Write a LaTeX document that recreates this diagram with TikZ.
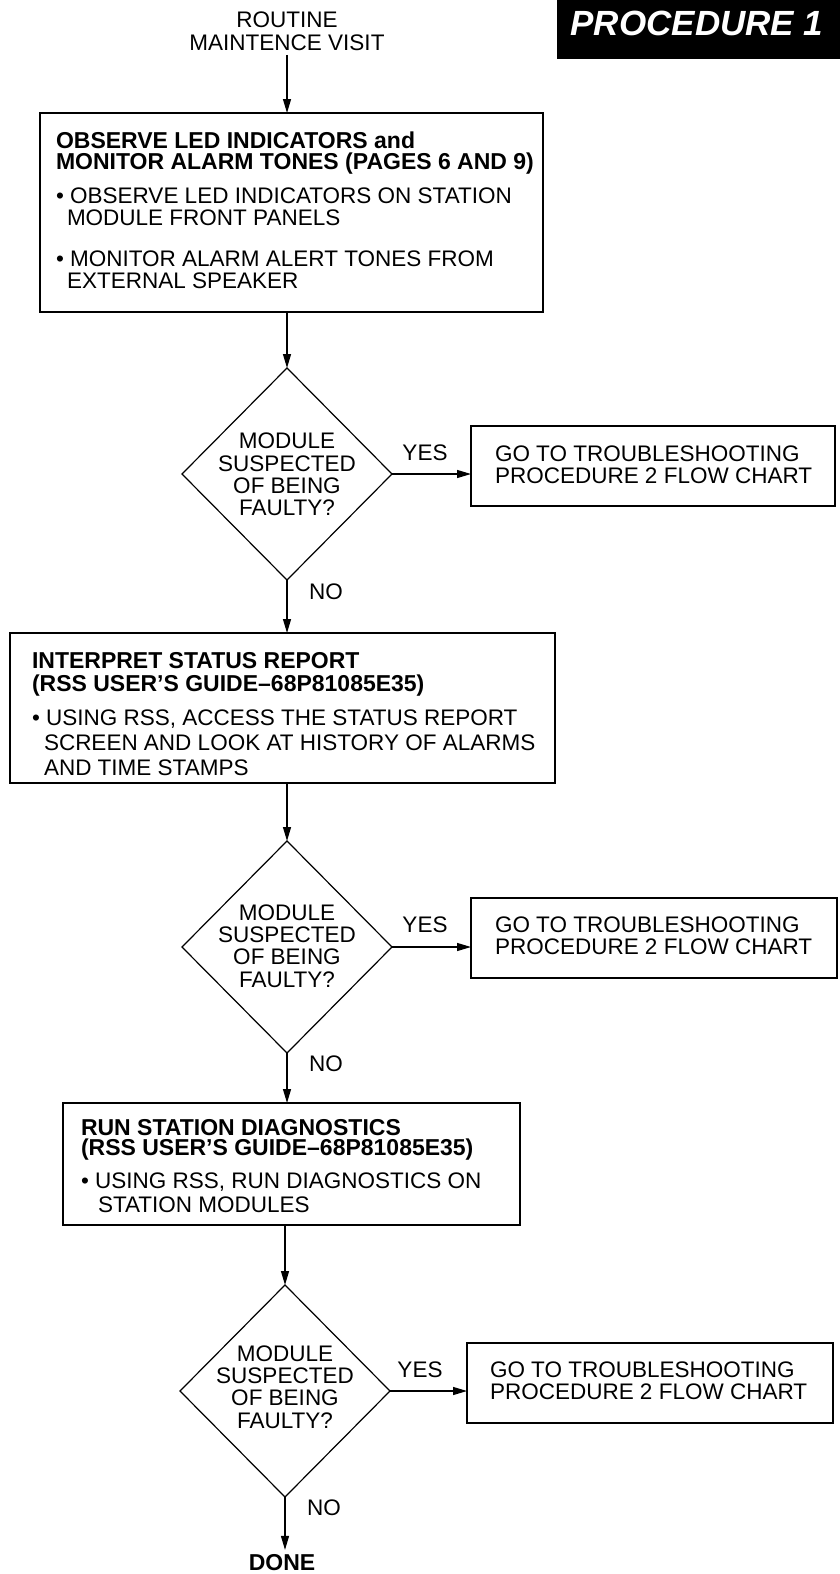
\documentclass[tikz,border=0pt]{standalone}
\usepackage{fontspec}
\setmainfont{Liberation Sans}
\usetikzlibrary{shapes.geometric,arrows.meta}
\newcommand\hd[1]{{\fontsize{23}{22}\selectfont\bfseries #1}}
\newcommand\tightls{\lineskiplimit=-100pt\relax\lineskip=0pt\relax}
\begin{document}
\begin{tikzpicture}[x=1pt,y=-1pt,
  every node/.style={inner sep=0pt, outer sep=0pt},
  body/.style={font=\fontsize{22.5}{22}\selectfont\tightls, align=left},
  ctxt/.style={font=\fontsize{22.5}{22.3}\selectfont\tightls, align=center},
  boldt/.style={font=\fontsize{23}{22}\selectfont\bfseries},
  boxs/.style={draw, line width=1.2pt, rectangle, anchor=north west},
  dia/.style={draw, line width=1.2pt, diamond, minimum width=210pt, minimum height=212pt},
  arr/.style={draw, line width=1.2pt, -{Triangle[length=14pt,width=8pt]}}
]
\useasboundingbox (0,0) rectangle (840,1574);

% title
\node[fill=black, minimum width=283pt, minimum height=59pt, anchor=north west] (title) at (557,0) {};
\node[font=\fontsize{35}{35}\selectfont\bfseries\itshape, text=white] (titlet) at (697,23) {PROCEDURE 1};

% start
\node[ctxt, font=\fontsize{22.5}{23}\selectfont\tightls] (start) at (287,31.5) {ROUTINE\\MAINTENCE VISIT};

% box 1
\node[boxs, minimum width=503pt, minimum height=199pt] (box1) at (40,113) {};
\node[body, anchor=north west] (box1t) at (56,132) {\hd{OBSERVE LED INDICATORS and}\\[-1pt]\hd{MONITOR ALARM TONES (PAGES 6 AND 9)}\\[12pt]• OBSERVE LED INDICATORS ON STATION\\\hspace*{11pt}MODULE FRONT PANELS\\[19pt]• MONITOR ALARM ALERT TONES FROM\\\hspace*{11pt}EXTERNAL SPEAKER};

% decision 1
\node[dia] (d1) at (287,474) {};
\node[ctxt] (d1t) at (287,474.5) {MODULE\\SUSPECTED\\OF BEING\\FAULTY?};
\node[boxs, minimum width=364pt, minimum height=80pt] (yb1) at (471,426) {};
\node[body, anchor=west] (yb1t) at (495,465) {GO TO TROUBLESHOOTING\\PROCEDURE 2 FLOW CHART};
\node[body] (yes1) at (425,453) {YES};
\node[body] (no1) at (326,592) {NO};

% box 2
\node[boxs, minimum width=545pt, minimum height=150pt] (box2) at (10,633) {};
\node[body, anchor=north west] (box2t) at (32,652) {\hd{INTERPRET STATUS REPORT}\\[1pt]\hd{(RSS USER’S GUIDE–68P81085E35)}\\[12pt]• USING RSS, ACCESS THE STATUS REPORT\\[3pt]\hspace*{12pt}SCREEN AND LOOK AT HISTORY OF ALARMS\\[3pt]\hspace*{12pt}AND TIME STAMPS};

% decision 2
\node[dia] (d2) at (287,947) {};
\node[ctxt] (d2t) at (287,946) {MODULE\\SUSPECTED\\OF BEING\\FAULTY?};
\node[boxs, minimum width=366pt, minimum height=80pt] (yb2) at (471,898) {};
\node[body, anchor=west] (yb2t) at (495,936) {GO TO TROUBLESHOOTING\\PROCEDURE 2 FLOW CHART};
\node[body] (yes2) at (425,925) {YES};
\node[body] (no2) at (326,1064) {NO};

% box 3
\node[boxs, minimum width=457pt, minimum height=122pt] (box3) at (63,1103) {};
\node[body, anchor=north west] (box3t) at (81,1119) {\hd{RUN STATION DIAGNOSTICS}\\[-2pt]\hd{(RSS USER’S GUIDE–68P81085E35)}\\[11pt]• USING RSS, RUN DIAGNOSTICS ON\\[2pt]\hspace*{17pt}STATION MODULES};

% decision 3
\node[dia] (d3) at (285,1391) {};
\node[ctxt] (d3t) at (285,1387) {MODULE\\SUSPECTED\\OF BEING\\FAULTY?};
\node[boxs, minimum width=366pt, minimum height=80pt] (yb3) at (467,1343) {};
\node[body, anchor=west] (yb3t) at (490,1381) {GO TO TROUBLESHOOTING\\PROCEDURE 2 FLOW CHART};
\node[body] (yes3) at (420,1370) {YES};
\node[body] (no3) at (324,1508) {NO};

\node[boldt] (done) at (282,1563) {DONE};

% connectors
\draw[arr, shorten <=4pt] (start.south) -- (start.south |- box1.north);
\draw[arr] (box1.south -| d1.north) -- (d1.north);
\draw[arr] (d1.east) -- (d1.east -| yb1.west);
\draw[arr] (d1.south) -- (d1.south |- box2.north);
\draw[arr] (box2.south -| d2.north) -- (d2.north);
\draw[arr] (d2.east) -- (d2.east -| yb2.west);
\draw[arr] (d2.south) -- (d2.south |- box3.north);
\draw[arr] (box3.south -| d3.north) -- (d3.north);
\draw[arr] (d3.east) -- (d3.east -| yb3.west);
\draw[arr, shorten >=5pt] (d3.south) -- (d3.south |- done.north);
\end{tikzpicture}
\end{document}
